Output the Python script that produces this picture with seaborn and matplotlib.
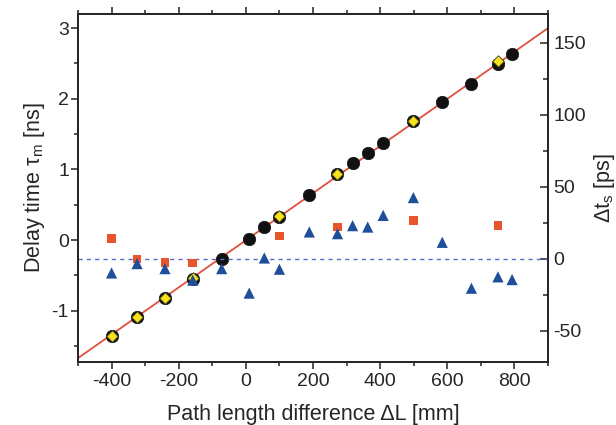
import matplotlib
matplotlib.use("Agg")
import matplotlib.pyplot as plt
import seaborn as sns
import numpy as np
import pandas as pd
from matplotlib.ticker import MultipleLocator

# ---- data ----
circ_x = [-400, -324, -241, -158, -72, 10, 55, 100, 189, 273, 318, 363, 409, 499, 585, 672, 751, 793]
circ_y = [-1.36, -1.09, -0.82, -0.55, -0.26, 0.01, 0.18, 0.33, 0.64, 0.93, 1.09, 1.23, 1.38, 1.68, 1.96, 2.21, 2.49, 2.63]

diam_x = [-400, -324, -241, -158, 100, 273, 499, 751]
diam_y = [-1.36, -1.09, -0.82, -0.54, 0.34, 0.93, 1.68, 2.53]

fit_x = [-500, 900]
fit_y = [-1.67, 3.00]

sq_x = [-400, -324, -241, -158, 100, 273, 499, 751]
sq_y = [13.9, -0.3, -2.6, -3.0, 15.7, 21.9, 26.6, 22.9]

tri_x = [-400, -324, -241, -158, -72, 10, 55, 100, 189, 273, 318, 363, 409, 499, 585, 672, 751, 793]
tri_y = [-10.0, -3.5, -7.0, -15.0, -7.0, -24.0, 0.4, -7.4, 18.5, 17.3, 22.9, 21.9, 30.0, 42.4, 11.3, -20.6, -12.7, -14.6]

xtick_vals = [-400, -200, 0, 200, 400, 600, 800]
ytick_vals = [-1, 0, 1, 2, 3]
y2tick_vals = [-50, 0, 50, 100, 150]

sns.set_style("ticks")
plt.rcParams['font.family'] = ['Liberation Sans', 'DejaVu Sans']
plt.rcParams['mathtext.fontset'] = 'custom'
plt.rcParams['mathtext.rm'] = 'Liberation Sans'
plt.rcParams['mathtext.it'] = 'Liberation Sans'

fig = plt.figure(figsize=(6.16, 4.25), dpi=100)
ax = fig.add_axes([0.1266, 0.1482, 0.763, 0.8188])
ax2 = ax.twinx()

black = "#111111"
sns.lineplot(x=fit_x, y=fit_y, ax=ax, color="#e0503c", linewidth=1.3, zorder=2)
sns.scatterplot(x=circ_x, y=circ_y, ax=ax, marker="o", s=80, color=black,
                edgecolor=black, linewidth=0.5, zorder=3)
sns.scatterplot(x=diam_x, y=diam_y, ax=ax, marker="D", s=34, color="#f7e21c",
                edgecolor="#3a3a20", linewidth=0.6, zorder=4)

ax2.axhline(0, color="#5a6cc8", linestyle=(0, (3, 3)), linewidth=1.0, zorder=1)
sns.scatterplot(x=sq_x, y=sq_y, ax=ax2, marker="s", s=40, color="#e8552c",
                edgecolor="none", zorder=3)
sns.scatterplot(x=tri_x, y=tri_y, ax=ax2, marker="^", s=65, color="#1f4e9a",
                edgecolor="none", zorder=4)

ax.set_xlim(-500, 900)
ax.set_ylim(-1.725, 3.2)
ax2.set_ylim(-71.9, 170)

ax.xaxis.set_minor_locator(MultipleLocator(100))
ax.yaxis.set_minor_locator(MultipleLocator(0.5))
ax2.yaxis.set_minor_locator(MultipleLocator(25))

ax.set_xticks(xtick_vals)
ax.set_xticklabels([str(v) for v in xtick_vals])
ax.set_yticks(ytick_vals)
ax.set_yticklabels([str(v) for v in ytick_vals])
ax2.set_yticks(y2tick_vals)
ax2.set_yticklabels([str(v) for v in y2tick_vals])

for a in (ax, ax2):
    for s in a.spines.values():
        s.set_visible(True)
        s.set_linewidth(1.2)
        s.set_color("#222222")

ax.tick_params(axis="x", which="both", direction="out", top=True, labelsize=14, width=1.1, color="#222222", pad=3)
ax.tick_params(axis="x", which="major", length=5)
ax.tick_params(axis="x", which="minor", length=3)
ax.tick_params(axis="y", which="both", direction="out", labelsize=14, width=1.1, color="#222222", pad=1.5)
ax.tick_params(axis="y", which="major", length=5)
ax.tick_params(axis="y", which="minor", length=3)
ax2.tick_params(axis="y", which="both", direction="in", labelsize=14, width=1.1, color="#222222", pad=4)
ax2.tick_params(axis="y", which="major", length=6)
ax2.tick_params(axis="y", which="minor", length=3.5)

ax.set_xlabel("Path length difference ΔL [mm]", fontsize=15.5, labelpad=10)
ax.set_ylabel(r"Delay time τ$_\mathrm{m}$ [ns]", fontsize=15.5, labelpad=3)
ax2.set_ylabel(r"Δt$_\mathrm{s}$ [ps]", fontsize=15.5, labelpad=4)

fig.savefig("out.png", dpi=100)
